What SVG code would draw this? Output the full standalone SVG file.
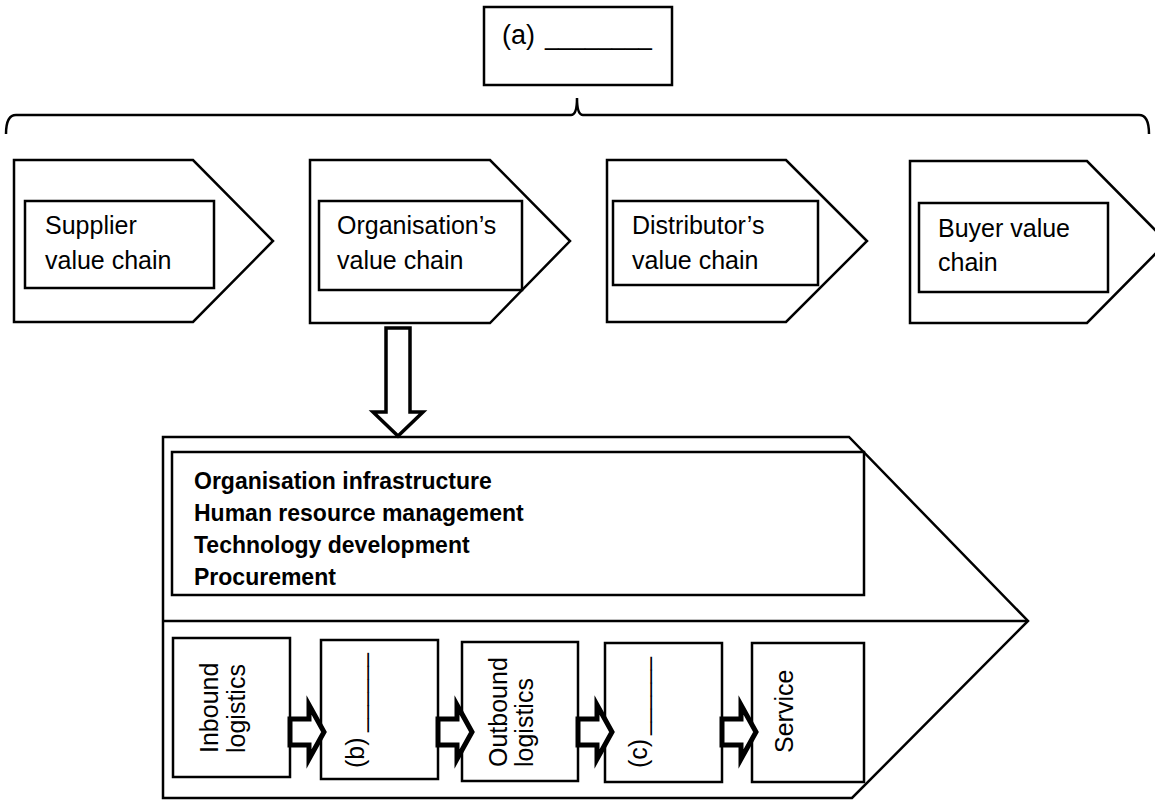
<svg xmlns="http://www.w3.org/2000/svg" width="1155" height="801" viewBox="0 0 1155 801">
<style>
.bx{fill:#fff;stroke:#000;stroke-width:2.5;stroke-linejoin:miter}
.ln{fill:none;stroke:#000;stroke-width:2.5}
.t{font-family:"Liberation Sans",Arial,sans-serif;font-size:25px;fill:#000}
.sb{font-family:"Liberation Sans",Arial,sans-serif;font-size:23px;font-weight:bold;fill:#000}
.ar{fill:#fff;stroke:#000;stroke-width:5;stroke-linejoin:miter}
.da{fill:#fff;stroke:#000;stroke-width:3.5;stroke-linejoin:miter}
</style>
<rect x="0" y="0" width="1155" height="801" fill="#fff"/>

<g id="node-a">
<rect class="bx" x="484" y="7" width="188" height="78"/>
<text class="t" x="502" y="44" style="font-size:27px">(a) <tspan x="545" textLength="107" lengthAdjust="spacingAndGlyphs">________</tspan></text>
</g>

<g id="node-supplier">
<path class="bx" d="M14,160 L193,160 L273,241 L193,322 L14,322 Z"/>
<rect class="bx" x="25" y="201" width="189" height="87"/>
<text class="t" x="45" y="234">Supplier</text>
<text class="t" x="45" y="269">value chain</text>
</g>

<g id="node-organisation">
<path class="bx" d="M310,160 L490,160 L570,241 L490,323 L310,323 Z"/>
<rect class="bx" x="319" y="201" width="203" height="89"/>
<text class="t" x="337" y="234">Organisation’s</text>
<text class="t" x="337" y="269">value chain</text>
</g>

<g id="node-distributor">
<path class="bx" d="M607,160 L786,160 L867,241 L786,322 L607,322 Z"/>
<rect class="bx" x="613" y="201" width="205" height="84"/>
<text class="t" x="632" y="234">Distributor’s</text>
<text class="t" x="632" y="269">value chain</text>
</g>

<g id="node-buyer">
<path class="bx" d="M910,161 L1087,161 L1167,242 L1087,323 L910,323 Z"/>
<rect class="bx" x="919" y="203" width="189" height="89"/>
<text class="t" x="938" y="237">Buyer value</text>
<text class="t" x="938" y="271">chain</text>
</g>

<g id="node-value-chain">
<path class="bx" d="M163,437 L849,437 L1028,621 L852,798 L163,798 Z"/>
<line class="ln" x1="163" y1="621" x2="1028" y2="621"/>
<g id="node-support">
<rect class="bx" x="172" y="452" width="692" height="143"/>
<text class="sb" x="194" y="489">Organisation infrastructure</text>
<text class="sb" x="194" y="521">Human resource management</text>
<text class="sb" x="194" y="553">Technology development</text>
<text class="sb" x="194" y="585">Procurement</text>
</g>
</g>

<g id="node-inbound">
<rect class="bx" x="173" y="638" width="117" height="139"/>
<text class="t" transform="translate(218,753) rotate(-90)">Inbound</text>
<text class="t" transform="translate(245,753) rotate(-90)">logistics</text>
</g>

<g id="node-b">
<rect class="bx" x="321" y="640" width="117" height="139"/>
<text class="t" transform="translate(364,768) rotate(-90)">(b) <tspan x="36" textLength="79" lengthAdjust="spacingAndGlyphs">______</tspan></text>
</g>

<g id="node-outbound">
<rect class="bx" x="462" y="642" width="116" height="139"/>
<text class="t" transform="translate(507,767) rotate(-90)">Outbound</text>
<text class="t" transform="translate(533,767) rotate(-90)">logistics</text>
</g>

<g id="node-c">
<rect class="bx" x="605" y="643" width="117" height="139"/>
<text class="t" transform="translate(647,768) rotate(-90)">(c) <tspan x="33" textLength="78" lengthAdjust="spacingAndGlyphs">______</tspan></text>
</g>

<g id="node-service">
<rect class="bx" x="752" y="643" width="112" height="139"/>
<text class="t" transform="translate(793,753) rotate(-90)">Service</text>
</g>

<g id="connectors">
<path class="ln" d="M6,134 Q6,115 16,115 L571,115 Q577,115 577,98 Q577,115 583,115 L1139,115 Q1149,115 1149,134"/>
<path class="da" d="M386,328 V412 H373 L398,436 L423,412 H410 V328 Z"/>
<path class="ar" d="M290,719 H309 V705 L324,732 L309,759 V745 H290 Z"/>
<path class="ar" d="M438,719 H457 V705 L472,732 L457,759 V745 H438 Z"/>
<path class="ar" d="M578,719 H597 V705 L612,732 L597,759 V745 H578 Z"/>
<path class="ar" d="M722,719 H741 V705 L756,732 L741,759 V745 H722 Z"/>
</g>
</svg>
